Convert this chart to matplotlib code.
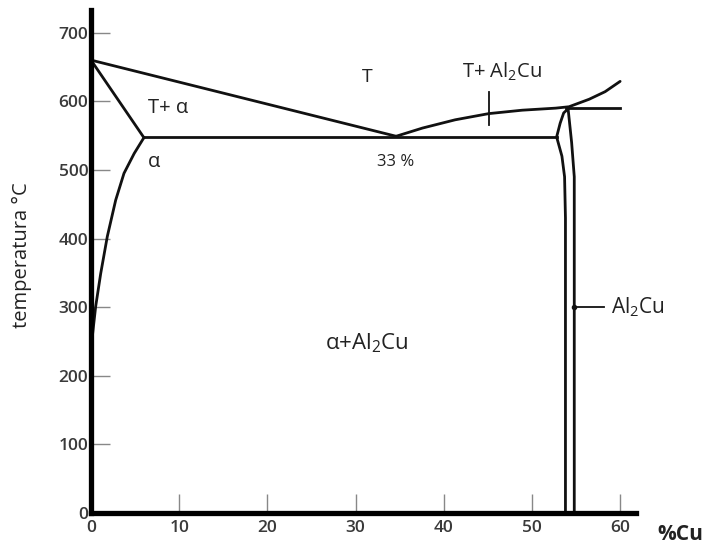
import matplotlib
matplotlib.use("Agg")
import matplotlib.pyplot as plt
import numpy as np

plt.rcParams['font.family'] = ['Open Sans', 'DejaVu Sans']
plt.rcParams['mathtext.fontset'] = 'custom'
plt.rcParams['mathtext.rm'] = 'Open Sans'
plt.rcParams['mathtext.it'] = 'Open Sans:italic'

# ---- data (composition %Cu, temperature °C) ----
liquidus_left_x = [0.0, 34.6]
liquidus_left_t = [660, 549]

liquidus_right_x = [34.6, 37.6, 41.3, 45.1, 48.9, 52.7, 54.2, 56.5, 58.3, 60.0]
liquidus_right_t = [549, 561, 573, 582, 587, 590, 592, 603, 614, 629]

solidus_alpha_x = [0.0, 6.0]
solidus_alpha_t = [660, 547]

solvus_alpha_x = [6.0, 4.9, 3.74, 2.8, 1.85, 1.1, 0.53, 0.15, 0.0]
solvus_alpha_t = [547, 524, 495, 456, 403, 349, 301, 257, 219]

eutectic_x = [6.0, 52.8]
eutectic_t = [548, 548]

peritectic_x = [53.9, 60.0]
peritectic_t = [590, 590]

al2cu_left_x = [54.1, 53.6, 53.2, 52.8, 53.4, 53.7, 53.8, 53.8]
al2cu_left_t = [589, 583, 568, 548, 520, 490, 430, 0]

al2cu_right_x = [54.1, 54.5, 54.8, 54.8]
al2cu_right_t = [589, 540, 490, 0]

xticks = [0, 10, 20, 30, 40, 50, 60]
yticks = [0, 100, 200, 300, 400, 500, 600, 700]

fig = plt.figure(figsize=(7.04, 5.46), dpi=100)
ax = fig.add_axes([91/704, 33/546, (636-91)/704, (513-10)/546])
ax.set_xlim(0, 61.8)
ax.set_ylim(0, 733)

lw = 2.0
c = '#111111'
ax.plot(liquidus_left_x, liquidus_left_t, color=c, lw=lw, solid_capstyle='round')
ax.plot(liquidus_right_x, liquidus_right_t, color=c, lw=lw, solid_capstyle='round')
ax.plot(solidus_alpha_x, solidus_alpha_t, color=c, lw=lw)
ax.plot(solvus_alpha_x, solvus_alpha_t, color=c, lw=lw)
ax.plot(eutectic_x, eutectic_t, color=c, lw=lw)
ax.plot(peritectic_x, peritectic_t, color=c, lw=lw)
ax.plot(al2cu_left_x, al2cu_left_t, color=c, lw=lw)
ax.plot(al2cu_right_x, al2cu_right_t, color=c, lw=lw)

# pointer marks
ax.plot([45.1, 45.1], [566, 614], color=c, lw=1.3)
ax.plot([54.8, 58.2], [300, 300], color=c, lw=1.3)
ax.plot([54.8], [300], 'o', color=c, ms=3)

for s in ['top', 'right']:
    ax.spines[s].set_visible(False)
for s in ['left', 'bottom']:
    ax.spines[s].set_linewidth(3.8)
    ax.spines[s].set_color('black')

ax.set_xticks(xticks)
ax.set_yticks(yticks)
ax.tick_params(axis='both', direction='in', length=14, width=1.0, color='#888888',
               labelsize=12.5, labelcolor='#3a3a3a')
for lab in ax.get_xticklabels() + ax.get_yticklabels():
    lab.set_fontweight('semibold')
ax.tick_params(axis='y', pad=2)
ax.tick_params(axis='x', pad=5)

tc = '#222222'
ax.text(31.3, 636, 'T', fontsize=14, ha='center', va='center', color=tc)
ax.text(46.6, 643, r'T+ Al$_\mathregular{2}$Cu', fontsize=14.5, ha='center', va='center', color=tc)
ax.text(8.8, 590, 'T+ α', fontsize=14.5, ha='center', va='center', color=tc)
ax.text(7.1, 512, 'α', fontsize=14.5, ha='center', va='center', color=tc)
ax.text(34.5, 512, '33 %', fontsize=12, ha='center', va='center', color=tc)
ax.text(31.3, 248, r'α+Al$_\mathregular{2}$Cu', fontsize=16, ha='center', va='center', color=tc)
ax.text(59.0, 300, r'Al$_\mathregular{2}$Cu', fontsize=15, ha='left', va='center', color=tc)

fig.text(22/704, 1 - 255/546, 'temperatura °C', rotation=90, fontsize=14.5,
         ha='center', va='center', color=tc)
fig.text(680/704, 1 - 535/546, '%Cu', fontsize=15, fontweight='bold',
         ha='center', va='center', color=tc)

fig.savefig('out.png', dpi=100, facecolor='white')
